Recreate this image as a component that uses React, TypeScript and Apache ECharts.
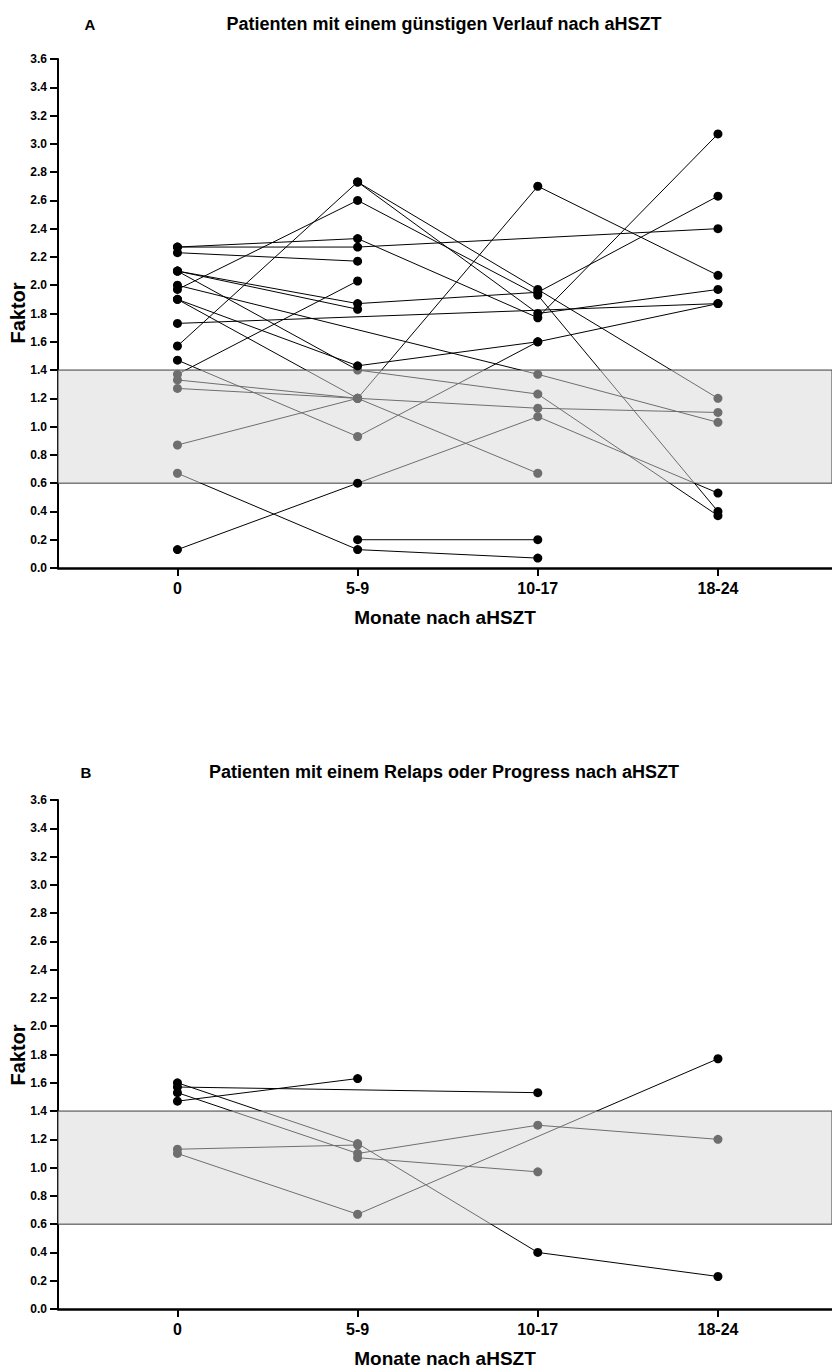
import React, { useEffect, useRef } from "react";
import * as echarts from "echarts";

// Time points after allogeneic stem cell transplantation
const timepoints = ["0", "5-9", "10-17", "18-24"];

// Reference range of the factor (shaded band)
const normalLow = 0.6;
const normalHigh = 1.4;

// Panel A: patients with a favourable course (values per time point, null = not measured)
const a01 = [2.27, 2.33, 1.77, 3.07];
const a02 = [2.27, 2.27, null, 2.4];
const a03 = [2.23, 2.17, null, null];
const a04 = [2.1, 1.87, 1.95, 2.63];
const a05 = [2.1, 1.83, null, null];
const a06 = [2.1, 1.4, 1.23, 0.37];
const a07 = [2.0, null, 1.37, 1.03];
const a08 = [1.97, 2.6, 1.93, 0.4];
const a09 = [1.9, 1.43, 1.6, 1.87];
const a10 = [1.9, 1.2, 2.7, 2.07];
const a11 = [1.73, null, null, 1.87];
const a12 = [1.57, 2.73, 1.97, 1.2];
const a13 = [1.47, 0.93, 1.6, null];
const a14 = [1.37, 2.03, null, null];
const a15 = [1.33, 1.2, 1.13, 1.1];
const a16 = [1.27, 1.2, 0.67, null];
const a17 = [0.87, 1.2, null, null];
const a18 = [0.67, 0.13, 0.07, null];
const a19 = [0.13, 0.6, 1.07, 0.53];
const a20 = [null, 0.2, 0.2, null];
const a21 = [null, 2.73, 1.8, 1.97];

// Panel B: patients with relapse or progression
const b01 = [1.47, 1.63, null, null];
const b02 = [1.57, null, 1.53, null];
const b03 = [1.6, 1.17, 0.4, 0.23];
const b04 = [1.53, 1.1, 1.3, 1.2];
const b05 = [1.13, 1.16, null, null];
const b06 = [1.1, 0.67, null, 1.77];
const b07 = [null, 1.07, 0.97, null];

const panelA = [a01, a02, a03, a04, a05, a06, a07, a08, a09, a10, a11, a12, a13, a14, a15, a16, a17, a18, a19, a20, a21];
const panelB = [b01, b02, b03, b04, b05, b06, b07];

const yTicks = { min: 0, max: 3.6, step: 0.2 };

const FONT = '"Liberation Sans", Arial, Helvetica, sans-serif';

export default function App() {
  const ref = useRef<HTMLDivElement>(null);

  useEffect(() => {
    if (!ref.current) return;
    const chart = echarts.init(ref.current, undefined, { renderer: "svg" });

    const grids = [
      { left: 58, right: 0, top: 59, height: 509 },
      { left: 58, right: 0, top: 800, height: 509 },
    ];

    const xAxis = grids.map((_, i) => ({
      type: "value",
      gridIndex: i,
      min: -0.663,
      max: 3.633,
      axisLine: { show: true, onZero: false, lineStyle: { color: "#000", width: 2.5 } },
      axisTick: {
        show: true,
        customValues: [0, 1, 2, 3],
        length: 8,
        lineStyle: { color: "#000", width: 2 },
      },
      axisLabel: {
        customValues: [0, 1, 2, 3],
        formatter: (v: number) => timepoints[Math.round(v)] ?? "",
        color: "#000",
        fontFamily: FONT,
        fontWeight: "bold",
        fontSize: 16,
        margin: 12,
      },
      splitLine: { show: false },
    }));

    const yAxis = grids.map((_, i) => ({
      type: "value",
      gridIndex: i,
      min: yTicks.min,
      max: yTicks.max,
      interval: yTicks.step,
      axisLine: { show: true, onZero: false, lineStyle: { color: "#000", width: 2 } },
      axisTick: { show: true, length: 8, lineStyle: { color: "#000", width: 2 } },
      axisLabel: {
        formatter: (v: number) => v.toFixed(1),
        color: "#000",
        fontFamily: FONT,
        fontWeight: "bold",
        fontSize: 12,
        margin: 11,
      },
      splitLine: { show: false },
    }));

    const series: any[] = [];
    // shaded reference band in each panel
    grids.forEach((_, i) => {
      series.push({
        type: "line",
        xAxisIndex: i,
        yAxisIndex: i,
        data: [],
        silent: true,
        z: 1,
        markArea: {
          silent: true,
          itemStyle: { color: "#ebebeb", borderColor: "#3c3c3c", borderWidth: 1 },
          data: [[{ yAxis: normalLow }, { yAxis: normalHigh }]],
        },
      });
    });

    const patientSeriesIdx: number[] = [];
    const addPatients = (patients: (number | null)[][], panel: number) => {
      patients.forEach((vals) => {
        const data = vals
          .map((v, t) => (v === null ? null : [t, v]))
          .filter((d) => d !== null);
        patientSeriesIdx.push(series.length);
        series.push({
          type: "line",
          xAxisIndex: panel,
          yAxisIndex: panel,
          data,
          symbol: "circle",
          symbolSize: 9,
          showAllSymbol: true,
          lineStyle: { width: 1 },
          emphasis: { disabled: true },
          z: 3,
        });
      });
    };
    addPatients(panelA, 0);
    addPatients(panelB, 1);

    const titleText = (x: number, y: number, text: string, size: number) => ({
      type: "text",
      x,
      y,
      style: {
        text,
        fill: "#000",
        font: `bold ${size}px ${FONT}`,
        align: "center",
        verticalAlign: "middle",
      },
    });

    const rotated = (x: number, y: number, text: string, size: number) => ({
      type: "text",
      x,
      y,
      rotation: Math.PI / 2,
      style: {
        text,
        fill: "#000",
        font: `bold ${size}px ${FONT}`,
        align: "center",
        verticalAlign: "middle",
      },
    });

    chart.setOption({
      animation: false,
      backgroundColor: "#fff",
      grid: grids,
      xAxis,
      yAxis,
      visualMap: {
        type: "piecewise",
        show: false,
        dimension: 1,
        seriesIndex: patientSeriesIdx,
        pieces: [{ gt: normalLow, lte: normalHigh, color: "#6e6e6e" }],
        outOfRange: { color: "#000" },
      },
      series,
      graphic: [
        titleText(90, 24, "A", 15),
        titleText(444, 24, "Patienten mit einem günstigen Verlauf nach aHSZT", 18),
        rotated(18, 313, "Faktor", 20),
        titleText(445, 617, "Monate nach aHSZT", 19),
        titleText(86, 772, "B", 15),
        titleText(444, 772, "Patienten mit einem Relaps oder Progress nach aHSZT", 18),
        rotated(18, 1055, "Faktor", 20),
        titleText(445, 1358, "Monate nach aHSZT", 19),
      ],
    });

    return () => chart.dispose();
  }, []);

  return (
    <div
      ref={ref}
      style={{ position: "absolute", left: 0, top: 0, width: 832, height: 1369 }}
    />
  );
}
